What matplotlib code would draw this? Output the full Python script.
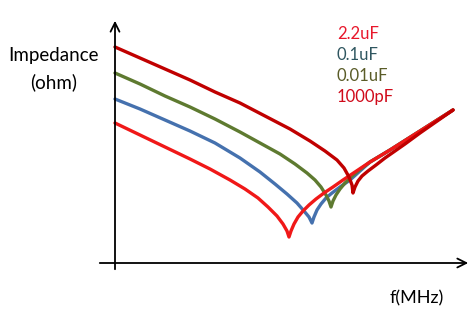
import matplotlib.pyplot as plt

# values (arbitrary units: frequency to the right, impedance up)
freq_2u2 = [0, 25, 50, 75, 95, 115, 130, 143, 153, 162, 168, 172, 174,
            176, 179, 183, 188, 194, 201, 209, 218, 228, 240, 255, 275, 305, 338]
imp_2u2 = [140, 128, 116, 104, 94, 83, 74, 65, 56, 47, 39, 32, 26,
           32, 39, 46, 52, 58, 64, 70, 76, 83, 91, 101, 113, 132, 153]

freq_0u1 = [0, 25, 50, 75, 100, 125, 145, 160, 172, 182, 189, 194, 197,
            199, 202, 206, 211, 217, 225, 235, 245, 255, 275, 305, 338]
imp_0u1 = [164, 154, 143, 132, 120, 105, 91, 79, 69, 60, 52, 46, 40,
           46, 53, 59, 65, 70, 76, 83, 92, 101, 113, 132, 153]

freq_0u01 = [0, 25, 50, 75, 100, 125, 145, 165, 180, 192, 200, 206, 211, 214, 216,
             218, 221, 225, 230, 236, 243, 255, 275, 305, 338]
imp_0u01 = [190, 179, 167, 156, 144, 131, 120, 109, 99, 90, 83, 76, 68, 62, 56,
            62, 68, 74, 80, 86, 92, 101, 113, 132, 153]

freq_1000p = [0, 25, 50, 75, 100, 125, 150, 175, 195, 210, 222, 229, 234, 237, 238,
              240, 243, 247, 253, 261, 270, 280, 290, 305, 338]
imp_1000p = [216, 205, 194, 183, 171, 160, 147, 134, 122, 112, 103, 95, 86, 78, 70,
             76, 82, 87, 92, 98, 105, 112, 119, 130, 153]

labels = ['2.2uF', '0.1uF', '0.01uF', '1000pF']
label_colors = ['#E8172B', '#2F5660', '#5A5C28', '#D00A1A']

fig = plt.figure(figsize=(4.77, 3.12), dpi=100)
ax = fig.add_axes([0, 0, 1, 1])
ax.set_xlim(-115, 362)
ax.set_ylim(-49, 263)
ax.axis('off')

# axes with arrow heads
ax.annotate('', xy=(356, 0), xytext=(-18, 0),
            arrowprops=dict(arrowstyle='->', lw=1.3, color='black', mutation_scale=16))
ax.annotate('', xy=(0, 245), xytext=(0, -9),
            arrowprops=dict(arrowstyle='->', lw=1.3, color='black', mutation_scale=16))

style = dict(lw=2.4, solid_joinstyle='round', solid_capstyle='round')
ax.plot(freq_0u1, imp_0u1, color='#4571AE', **style)
ax.plot(freq_0u01, imp_0u01, color='#5E7A30', **style)
ax.plot(freq_2u2, imp_2u2, color='#F01818', **style)
ax.plot(freq_1000p, imp_1000p, color='#C00000', **style)

for i, (lab, col) in enumerate(zip(labels, label_colors)):
    ax.text(222, 229 - i * 21, lab, color=col, fontsize=12, family='Lato',
            ha='left', va='center')

ax.text(-61, 208, 'Impedance', fontsize=13.5, family='Lato', ha='center', va='center')
ax.text(-61, 181, '(ohm)', fontsize=13.5, family='Lato', ha='center', va='center')
ax.text(302, -35, 'f(MHz)', fontsize=13, family='Lato', ha='center', va='center')

plt.savefig('out.png', dpi=100)
